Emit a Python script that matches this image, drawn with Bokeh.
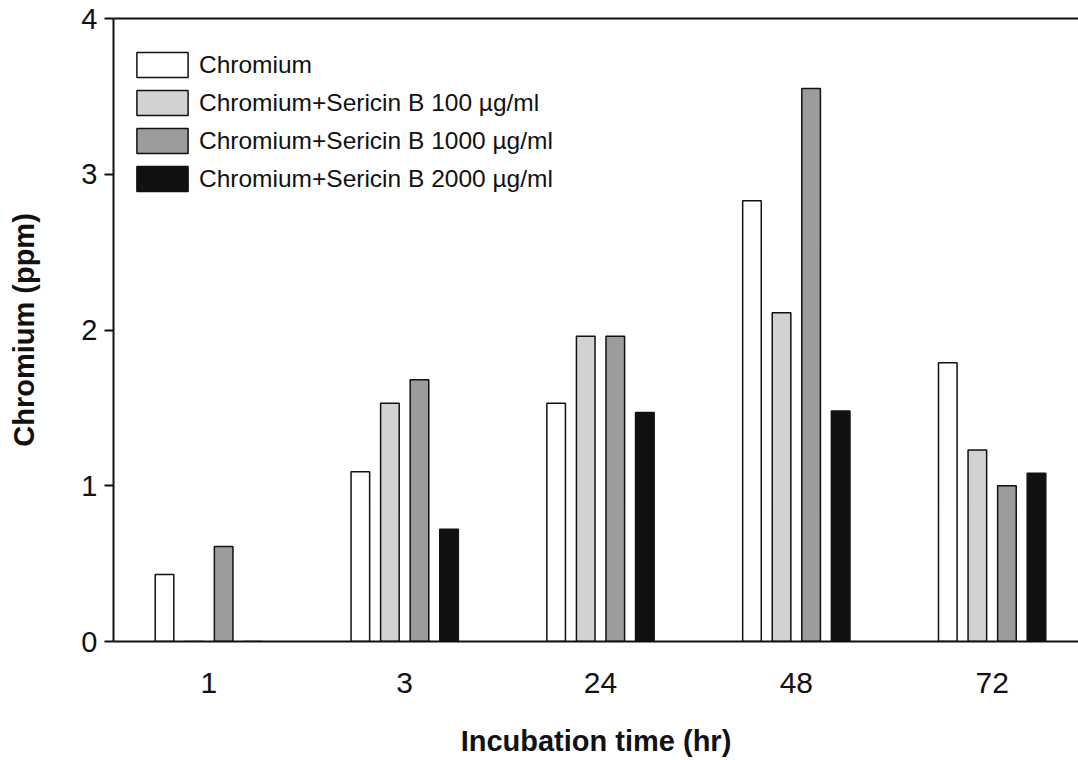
from bokeh.plotting import figure
from bokeh.models import (Range1d, FixedTicker, LinearAxis, Legend, LegendItem,
                          ColumnDataSource)
from bokeh.transform import dodge
from bokeh.embed import file_html
from bokeh.resources import INLINE

# ---- data ----
times = ["1", "3", "24", "48", "72"]
positions = [0, 1, 2, 3, 4]
series_names = ["Chromium",
                "Chromium+Sericin B 100 \u00b5g/ml",
                "Chromium+Sericin B 1000 \u00b5g/ml",
                "Chromium+Sericin B 2000 \u00b5g/ml"]
chromium = [0.43, 1.09, 1.53, 2.83, 1.79]
sericin_100 = [0.0, 1.53, 1.96, 2.11, 1.23]
sericin_1000 = [0.61, 1.68, 1.96, 3.55, 1.00]
sericin_2000 = [0.0, 0.72, 1.47, 1.48, 1.08]
y_ticks = [0, 1, 2, 3, 4]

FONT = "Liberation Sans"
INK = "#111111"

src = ColumnDataSource(dict(x=positions, s0=chromium, s1=sericin_100,
                            s2=sericin_1000, s3=sericin_2000))

p = figure(width=1078, height=760, output_backend="svg", toolbar_location=None,
           x_range=Range1d(-0.487, 4.441), y_range=Range1d(0, 4),
           min_border_left=113, min_border_right=0, min_border_top=18,
           min_border_bottom=119)
p.outline_line_color = None
p.grid.visible = False
p.background_fill_color = "white"
p.border_fill_color = "white"

fills = ["white", "#d2d2d2", "#9c9c9c", INK]
offsets = [-0.2265, -0.0755, 0.0755, 0.2265]
keys = ["s0", "s1", "s2", "s3"]
renderers = []
for k, off, fc in zip(keys, offsets, fills):
    r = p.vbar(x=dodge("x", off, range=p.x_range), top=k, bottom=0, width=0.095,
               source=src, fill_color=fc, line_color=INK, line_width=1.5)
    renderers.append(r)

legend = Legend(items=[LegendItem(label=n, renderers=[r]) for n, r in zip(series_names, renderers)],
                location=(17, 447), margin=0, padding=0, spacing=7,
                glyph_width=64, glyph_height=31, label_height=24, label_standoff=5,
                border_line_color=None, background_fill_alpha=0,
                label_text_font=FONT, label_text_font_size="24.5px",
                label_text_color=INK, label_text_baseline="middle")
p.add_layout(legend, "center")

# x axis
xa = p.xaxis[0]
xa.ticker = FixedTicker(ticks=positions)
xa.major_label_overrides = {pos: t for pos, t in zip(positions, times)}
xa.major_tick_out = 0
xa.major_tick_in = 0
xa.minor_tick_out = 0
xa.minor_tick_in = 0
xa.axis_line_width = 2
xa.axis_line_color = INK
xa.major_label_standoff = 31
xa.major_label_text_font = FONT
xa.major_label_text_font_size = "30px"
xa.major_label_text_color = INK
xa.axis_label = "Incubation time (hr)"
xa.axis_label_standoff = 29
xa.axis_label_text_font = FONT
xa.axis_label_text_font_size = "29px"
xa.axis_label_text_font_style = "bold"
xa.axis_label_text_color = INK

# y axis
ya = p.yaxis[0]
ya.ticker = FixedTicker(ticks=y_ticks)
ya.major_tick_out = 9
ya.major_tick_in = 0
ya.minor_tick_out = 0
ya.minor_tick_in = 0
ya.major_tick_line_width = 2
ya.major_tick_line_color = INK
ya.axis_line_width = 2
ya.axis_line_color = INK
ya.major_label_standoff = 7
ya.major_label_text_font = FONT
ya.major_label_text_font_size = "29px"
ya.major_label_text_color = INK
ya.axis_label = "Chromium (ppm)"
ya.axis_label_standoff = 38
ya.axis_label_text_font = FONT
ya.axis_label_text_font_size = "29px"
ya.axis_label_text_font_style = "bold"
ya.axis_label_text_color = INK

# top border line
top_axis = LinearAxis(ticker=FixedTicker(ticks=[]), major_label_text_font_size="0px",
                      major_tick_out=0, major_tick_in=0, minor_tick_out=0, minor_tick_in=0,
                      axis_line_width=2, axis_line_color=INK)
p.add_layout(top_axis, "above")

open("out.html", "w").write(file_html(p, INLINE))
